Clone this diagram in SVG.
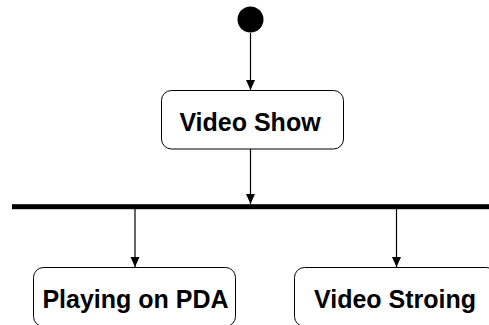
<svg xmlns="http://www.w3.org/2000/svg" width="489" height="325" viewBox="0 0 489 325">
  <defs>
    <marker id="arrow" viewBox="0 0 10 10" refX="10" refY="5" markerWidth="10" markerHeight="10" markerUnits="userSpaceOnUse" orient="auto">
      <path d="M0,0.5 L10,5 L0,9.5 Z" fill="#000"/>
    </marker>
    <style>
      .state { fill: #fff; stroke: #000; stroke-width: 1; }
      .label { font-family: "Liberation Sans", Arial, sans-serif; font-weight: bold; font-size: 25px; fill: #000; text-anchor: middle; }
      .flow { stroke: #000; stroke-width: 1.2; fill: none; marker-end: url(#arrow); }
    </style>
  </defs>
  <rect width="489" height="325" fill="#fff"/>

  <g id="connectors">
    <line class="flow" x1="250.5" y1="33" x2="250.5" y2="90"/>
    <line class="flow" x1="250.5" y1="149" x2="250.5" y2="204"/>
    <line class="flow" x1="135" y1="209" x2="135" y2="267"/>
    <line class="flow" x1="396.5" y1="209" x2="396.5" y2="267"/>
  </g>

  <g id="start">
    <circle cx="250.5" cy="19.5" r="13" fill="#000"/>
  </g>

  <g id="fork">
    <rect x="12" y="204.2" width="480" height="5" fill="#000"/>
  </g>

  <g id="video-show">
    <rect class="state" x="161.5" y="90.5" width="182" height="58.5" rx="10"/>
    <text class="label" x="250" y="131">Video Show</text>
  </g>

  <g id="playing-on-pda">
    <rect class="state" x="33.5" y="267.5" width="202" height="59" rx="10"/>
    <text class="label" x="135.5" y="307.5">Playing on PDA</text>
  </g>

  <g id="video-stroing">
    <rect class="state" x="294.5" y="267.5" width="202" height="59" rx="10"/>
    <text class="label" x="395" y="307.5">Video Stroing</text>
  </g>
</svg>
